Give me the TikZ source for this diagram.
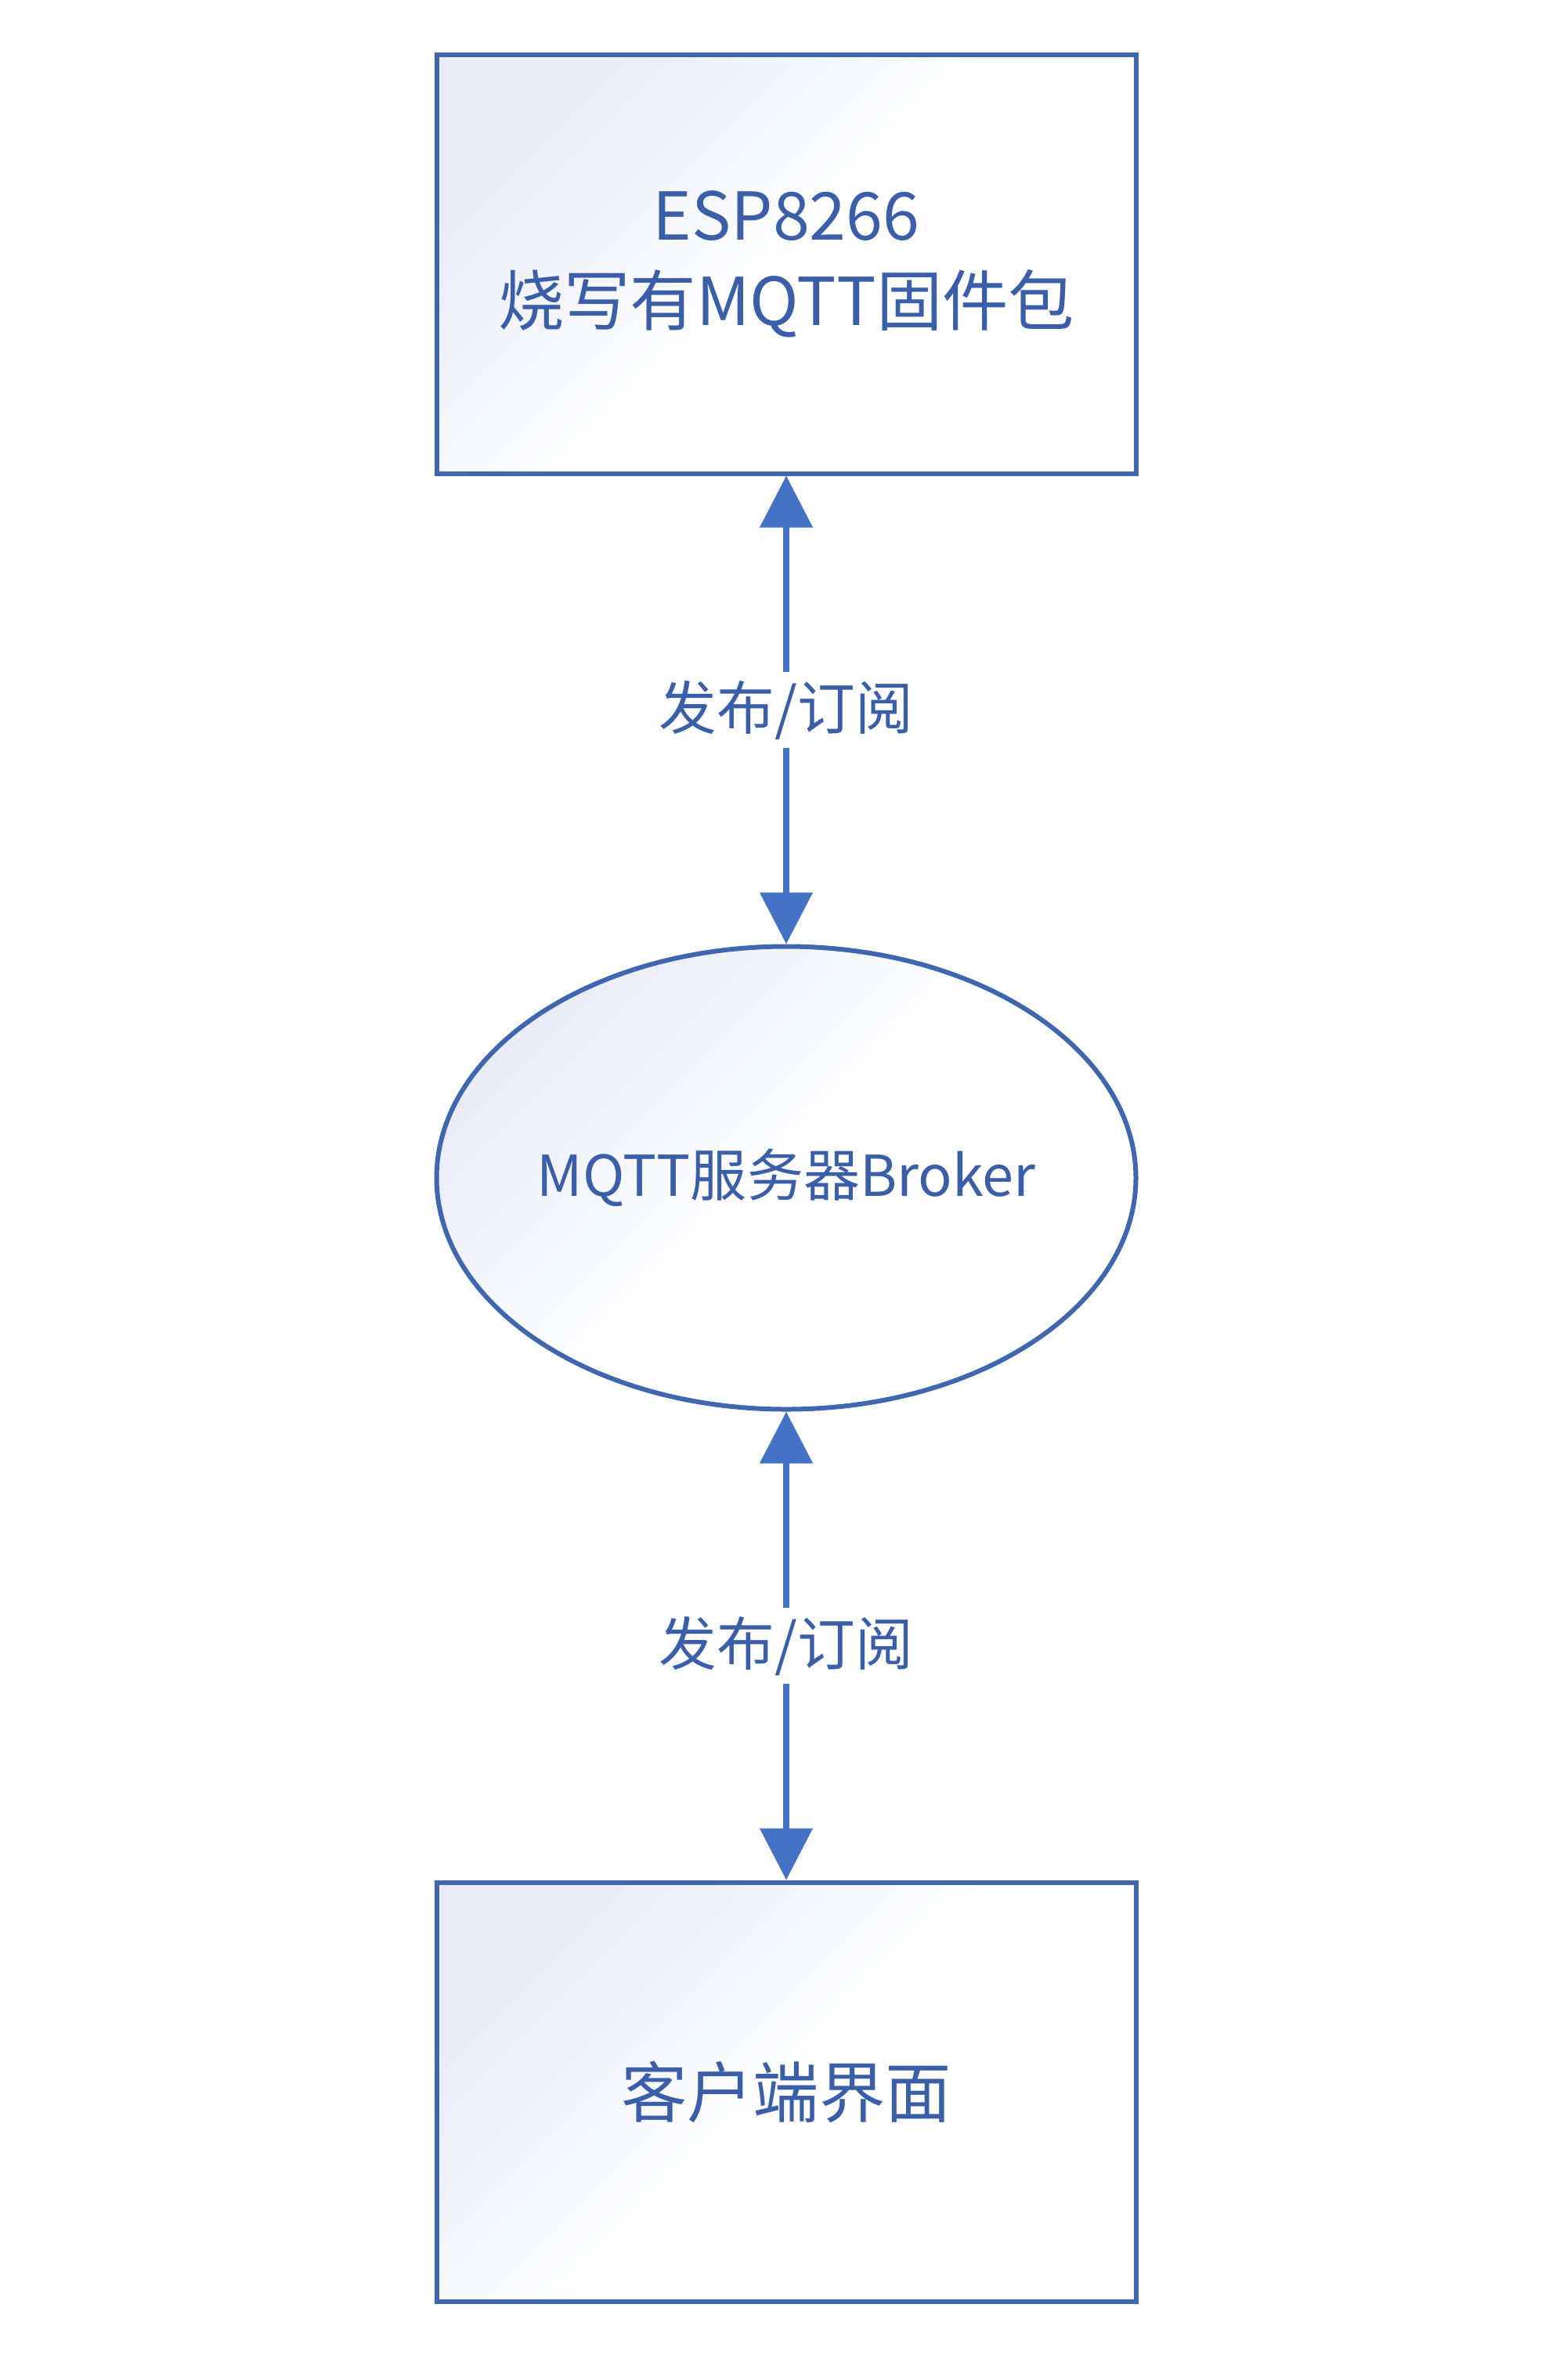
\documentclass[tikz,border=0pt]{standalone}
\usepackage{fontspec}
\setmainfont{Noto Sans CJK SC}
\usetikzlibrary{arrows.meta, positioning, shapes.geometric}
\definecolor{linkblue}{HTML}{4472C4}
\definecolor{edgeblue}{HTML}{3F67B0}
\definecolor{textblue}{HTML}{3A5EA8}
\definecolor{tint}{HTML}{E9ECF7}

\begin{document}
\begin{tikzpicture}[
  every node/.style = {text=textblue},
  unitbox/.style    = {draw=edgeblue, line width=0.06cm, align=center,
                       minimum width=8.93cm, minimum height=5.35cm,
                       top color=tint, bottom color=white, middle color=white,
                       shading angle=45},
  hubell/.style     = {ellipse, draw=edgeblue, line width=0.06cm, align=center,
                       minimum width=8.93cm, minimum height=5.91cm,
                       inner xsep=-0.5cm, inner ysep=0pt,
                       top color=tint, bottom color=white, middle color=white,
                       shading angle=45, font=\fontsize{20.5}{25}\selectfont},
  link/.style       = {{Triangle[length=0.66cm, width=0.66cm]}-{Triangle[length=0.66cm, width=0.66cm]},
                       draw=linkblue, line width=0.08cm},
  tag/.style        = {fill=white, inner sep=3pt, font=\fontsize{21}{26}\selectfont},
]
  \useasboundingbox (0,0) rectangle (20,-30.39);

  % ---------------------------------------------------------------- nodes
  \node[unitbox, font=\fontsize{24}{31}\selectfont] (esp) at (10.04,-3.37)
        {ESP8266\\烧写有MQTT固件包};
  \node[hubell, below=5.98cm of esp]  (broker) {MQTT服务器Broker};
  \node[unitbox, below=5.98cm of broker, font=\fontsize{24}{30}\selectfont]
        (client) {客户端界面};

  % --------------------------------------------------------------- linkage
  \draw[link] (esp) -- node[tag] (pubtop) {发布/订阅} (broker);
  \draw[link] (broker) -- node[tag] (pubbot) {发布/订阅} (client);

\end{tikzpicture}
\end{document}
